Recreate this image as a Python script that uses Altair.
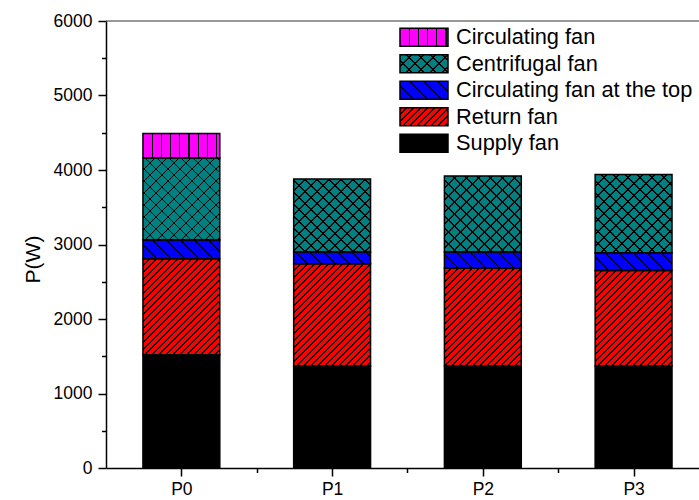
import math

import altair as alt
import pandas as pd

# ---- data -------------------------------------------------------------
categories = ["P0", "P1", "P2", "P3"]
series = ["Supply fan", "Return fan", "Circulating fan at the top",
          "Centrifugal fan", "Circulating fan"]
supply_fan = [1520, 1370, 1370, 1370]
return_fan = [1290, 1370, 1310, 1280]
top_circulating_fan = [250, 160, 220, 240]
centrifugal_fan = [1100, 980, 1020, 1050]
circulating_fan = [330, 0, 0, 0]
series_values = [supply_fan, return_fan, top_circulating_fan,
                 centrifugal_fan, circulating_fan]
legend_order = ["Circulating fan", "Centrifugal fan",
                "Circulating fan at the top", "Return fan", "Supply fan"]

# ---- layout -------------------------------------------------------------
PLOT_W, PLOT_H = 593, 447
X_MIN, X_MAX = -0.5, 3.434
Y_MAX = 6000
BAR_HALF = 0.255
PX_X = PLOT_W / (X_MAX - X_MIN)
PX_Y = PLOT_H / Y_MAX
FONT = "Liberation Sans, Arial, sans-serif"

# fill colour and hatch strokes (direction, spacing in px) for each series
styles = {
    "Supply fan": ("#000000", []),
    "Return fan": ("#FF0000", [("fwd", 7.0)]),
    "Circulating fan at the top": ("#0000FF", [("back", 14.0)]),
    "Centrifugal fan": ("#008080", [("back", 12.0), ("fwd", 12.0)]),
    "Circulating fan": ("#FF00FF", [("vert", 9.2)]),
}


def hatch(base, kind, gap, w, h, thick=1.2, ink="#000000"):
    """Striped linear gradient that renders as hatch lines on a w x h rect."""
    if kind == "vert":
        total = w
        coords = dict(x1=0, y1=0, x2=1, y2=0)
        half = thick / 2 / total
    else:
        total = w + h
        c = (w + h) / (w * w + h * h)
        if kind == "fwd":
            coords = dict(x1=0, y1=0, x2=c * w, y2=c * h)
        else:
            coords = dict(x1=0, y1=1, x2=c * w, y2=1 - c * h)
        half = thick * math.sqrt(2) / 2 / total
    stops = [(0.0, base)]
    p = gap
    while p < total - 0.5:
        t = p / total
        a, b = max(t - half, 0.0), min(t + half, 1.0)
        stops += [(a, base), (a, ink), (b, ink), (b, base)]
        p += gap
    stops.append((1.0, base))
    return alt.LinearGradient(
        gradient="linear",
        stops=[alt.GradientStop(color=col, offset=round(o, 5)) for o, col in stops],
        **{k: round(v, 5) for k, v in coords.items()},
    )


def fills(name, w, h):
    base, strokes = styles[name]
    if not strokes:
        return [base]
    out = []
    for j, (kind, gap) in enumerate(strokes):
        out.append(hatch(base if j == 0 else "rgba(0,0,0,0)", kind, gap, w, h))
    return out


# ---- stacked segments ---------------------------------------------------
rows = []
for i, cat in enumerate(categories):
    bottom = 0
    for name, vals in zip(series, series_values):
        v = vals[i]
        if v > 0:
            rows.append(dict(cat=cat, series=name, x0=i - BAR_HALF,
                             x1=i + BAR_HALF, lo=bottom, hi=bottom + v))
        bottom += v
df = pd.DataFrame(rows)

x_axis = alt.Axis(
    values=[0, 0.5, 1, 1.5, 2, 2.5, 3],
    labelExpr="datum.value % 1 == 0 ? 'P' + datum.value : ''",
    tickSize={"condition": {"test": "datum.value % 1 != 0", "value": 4.5}, "value": 8},
    grid=False, title=None, domainColor="#000000", domainWidth=1.5,
    tickColor="#000000", tickWidth=1.5, labelFont=FONT, labelFontSize=17.5,
    labelColor="#000000", labelPadding=4,
)
y_axis = alt.Axis(
    values=list(range(0, 6001, 500)), format="d",
    labelExpr="datum.value % 1000 == 0 ? datum.label : ''",
    tickSize={"condition": {"test": "datum.value % 1000 != 0", "value": 4.5}, "value": 8},
    grid=False, title="P(W)", titleFont=FONT, titleFontSize=21,
    titleFontWeight="normal", titleColor="#000000", titleX=-63, titleY=238,
    domainColor="#000000", domainWidth=1.5, tickColor="#000000", tickWidth=1.5,
    labelFont=FONT, labelFontSize=17.5, labelColor="#000000", labelPadding=6,
)
x_scale = alt.Scale(domain=[X_MIN, X_MAX], nice=False, zero=False)
y_scale = alt.Scale(domain=[0, Y_MAX], nice=False)
enc = dict(
    x=alt.X("x0:Q", scale=x_scale, axis=x_axis),
    x2="x1:Q",
    y=alt.Y("lo:Q", scale=y_scale, axis=y_axis),
    y2="hi:Q",
)

layers = []
for r in rows:
    w = (r["x1"] - r["x0"]) * PX_X
    h = (r["hi"] - r["lo"]) * PX_Y
    for f in fills(r["series"], w, h):
        layers.append(
            alt.Chart(df)
            .transform_filter(f"datum.cat == '{r['cat']}' && datum.series == '{r['series']}'")
            .mark_rect(fill=f, strokeWidth=0)
            .encode(**enc)
        )

# segment outlines
layers.append(
    alt.Chart(df).mark_rect(fillOpacity=0, stroke="#000000", strokeWidth=1.5).encode(**enc)
)

# top frame line
layers.append(
    alt.Chart(pd.DataFrame({"k": [0]}))
    .mark_rule(color="#333333", strokeWidth=1.2)
    .encode(x=alt.value(0), x2=alt.value(PLOT_W), y=alt.value(0))
)

# ---- legend -------------------------------------------------------------
SW_X, SW_W, SW_H, ROW0, ROW_STEP = 294, 48, 18, 7.3, 26.5
legend_df = pd.DataFrame({"series": legend_order})
for k, name in enumerate(legend_order):
    top = ROW0 + ROW_STEP * k
    for f in fills(name, SW_W, SW_H):
        layers.append(
            alt.Chart(legend_df)
            .transform_filter(f"datum.series == '{name}'")
            .mark_rect(fill=f, strokeWidth=0)
            .encode(x=alt.value(SW_X), x2=alt.value(SW_X + SW_W),
                    y=alt.value(top), y2=alt.value(top + SW_H))
        )
    layers.append(
        alt.Chart(legend_df)
        .transform_filter(f"datum.series == '{name}'")
        .mark_rect(fillOpacity=0, stroke="#000000", strokeWidth=1.5)
        .encode(x=alt.value(SW_X), x2=alt.value(SW_X + SW_W),
                y=alt.value(top), y2=alt.value(top + SW_H))
    )
    layers.append(
        alt.Chart(legend_df)
        .transform_filter(f"datum.series == '{name}'")
        .mark_text(align="left", baseline="middle", font=FONT, fontSize=21.8,
                   color="#000000")
        .encode(text="series:N", x=alt.value(SW_X + SW_W + 8),
                y=alt.value(top + SW_H / 2))
    )

chart = (
    alt.layer(*layers)
    .properties(
        width=PLOT_W, height=PLOT_H,
        autosize=alt.AutoSizeParams(type="none"),
        padding={"left": 106, "top": 21, "right": 0, "bottom": 32},
        background="#FFFFFF",
    )
    .configure_view(stroke=None)
)

chart.save("out.html", embed_options={"renderer": "svg", "actions": False})
